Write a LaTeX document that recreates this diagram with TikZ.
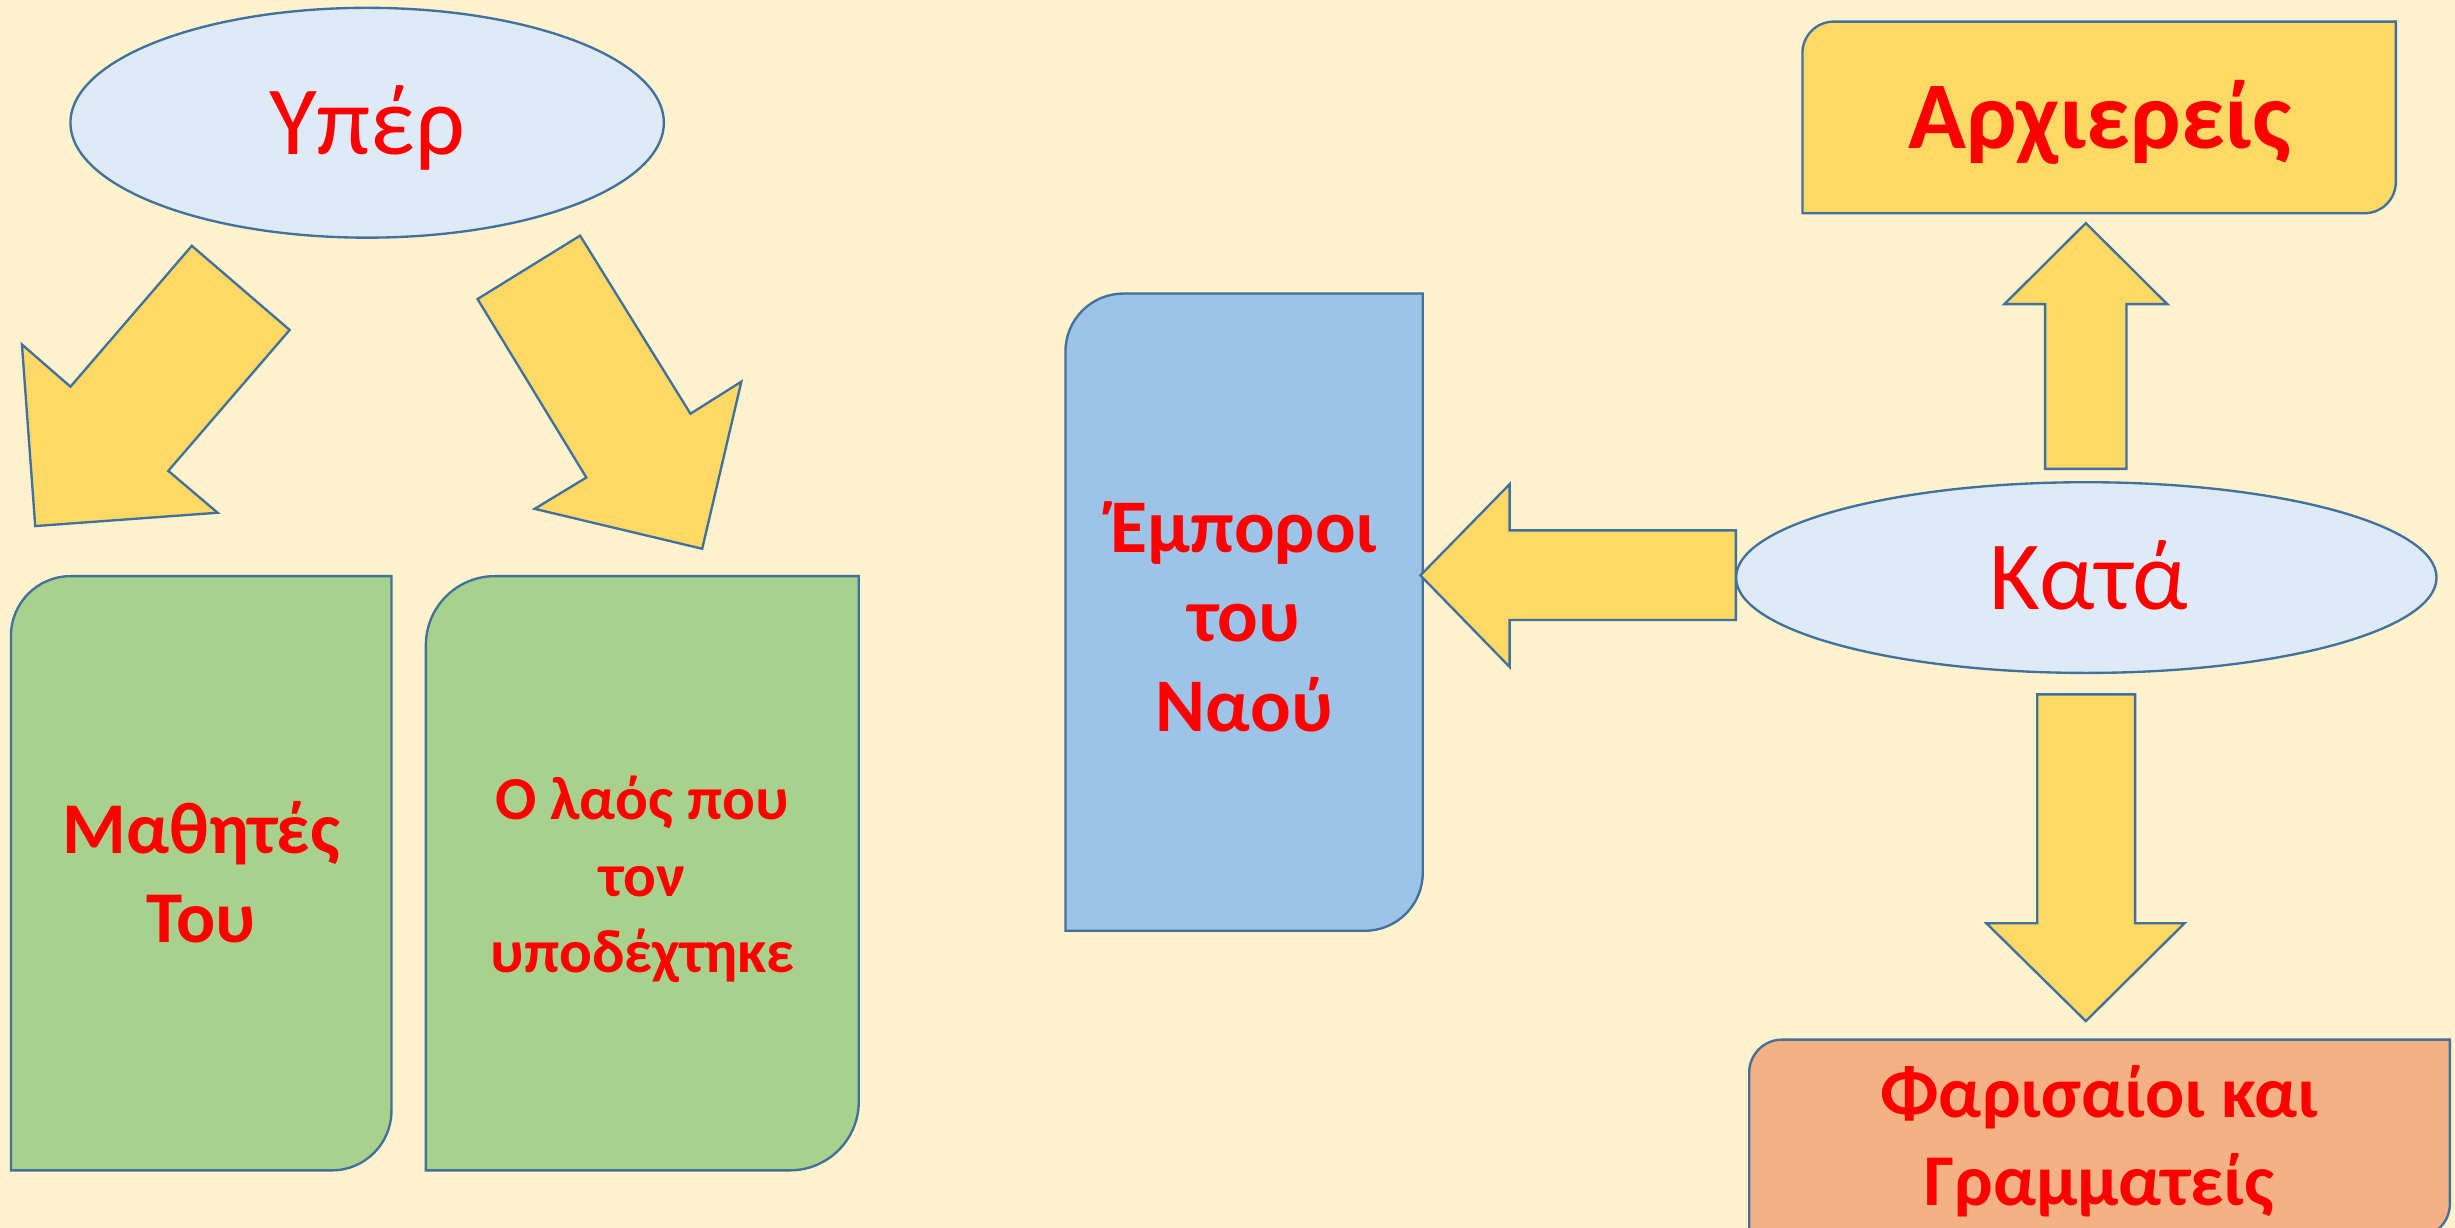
\documentclass[tikz,border=0pt]{standalone}
\usepackage{fontspec}
\setmainfont{Carlito}
\definecolor{bgc}{HTML}{FFF2CC}
\definecolor{ellc}{HTML}{DEEBF7}
\definecolor{greenc}{HTML}{A9D18E}
\definecolor{bluec}{HTML}{9DC3E6}
\definecolor{yelc}{HTML}{FFD966}
\definecolor{orc}{HTML}{F4B183}
\definecolor{edgec}{HTML}{41719C}
\definecolor{redc}{HTML}{FF0000}
\newcommand\dgbox[6]{%
  \draw[#1] ({#2},{#3+#6}) .. controls ({#2},{#3+0.448*#6}) and ({#2+0.448*#6},{#3}) .. ({#2+#6},{#3})
    -- ({#4},{#3}) -- ({#4},{#5-#6}) .. controls ({#4},{#5-0.448*#6}) and ({#4-0.448*#6},{#5}) .. ({#4-#6},{#5})
    -- ({#2},{#5}) -- cycle;}
\tikzset{
  shp/.style={draw=edgec, line width=0.75pt, line join=miter},
  blockarrow/.style={shp, fill=yelc},
  reglabel/.style={anchor=base, text=redc, inner sep=0pt, font=\fontsize{31.25pt}{37pt}\selectfont},
  biglabel/.style={anchor=base, text=redc, inner sep=0pt, font=\fontsize{30.5pt}{36pt}\selectfont\bfseries},
  midlabel/.style={anchor=base, text=redc, inner sep=0pt, font=\fontsize{23.3pt}{28pt}\selectfont\bfseries},
  bluelabel/.style={anchor=base, text=redc, inner sep=0pt, font=\fontsize{24.2pt}{29pt}\selectfont\bfseries},
  smalllabel/.style={anchor=base, text=redc, inner sep=0pt, font=\fontsize{19.5pt}{24pt}\selectfont\bfseries}
}
\begin{document}
\begin{tikzpicture}[x=0.5pt,y=-0.5pt]
\useasboundingbox (0,0) rectangle (1568,784.3);
\fill[bgc] (0,0) rectangle (1568,784.3);
\clip (0,0) rectangle (1568,784.3);

% ellipses
\draw[shp, fill=ellc] (234.5,78.4) ellipse [x radius=189.5, y radius=73.4];
\draw[shp, fill=ellc] (1332.5,368.9) ellipse [x radius=223.7, y radius=60.9];

% boxes
\dgbox{shp, fill=greenc}{7}{368}{250}{747.5}{38}
\dgbox{shp, fill=greenc}{272}{368}{548.5}{747.5}{44}
\dgbox{shp, fill=bluec}{680.5}{187.5}{908.7}{594.5}{37}
\dgbox{shp, fill=yelc}{1151.2}{13.8}{1530.2}{136.2}{20}
\dgbox{shp, fill=orc}{1117.2}{664}{1564.7}{790}{21}

% block arrows
\draw[blockarrow] (185,210.75) -- (122.5,157) -- (45,247) -- (14,220) -- (22.5,336) -- (139,327.5) -- (107.5,300.75) -- cycle;
\draw[blockarrow] (370.5,150.5) -- (305,191) -- (374.5,305) -- (341.5,325) -- (448.5,350.5) -- (473.5,243.75) -- (441,264.25) -- cycle;
\draw[blockarrow] (1306.2,299.5) -- (1306.2,194.25) -- (1280.2,194.25) -- (1332.2,142.5) -- (1384.2,194.25) -- (1358.2,194.25) -- (1358.2,299.5) -- cycle;
\draw[blockarrow] (1108.7,338.75) -- (964.2,338.75) -- (964.2,309.25) -- (907.2,367.5) -- (964.2,426) -- (964.2,396) -- (1108.7,396) -- cycle;
\draw[blockarrow] (1301.2,443.5) -- (1363.7,443.5) -- (1363.7,589.7) -- (1395.2,589.7) -- (1332.2,652.2) -- (1268.7,589.7) -- (1301.2,589.7) -- cycle;

% labels
\node[reglabel] (uper) at (234.5,99) {Υπέρ};
\node[reglabel] (kata) at (1334,389.6) {Κατά};
\node[biglabel] (arch) at (1341,94.7) {Αρχιερείς};
\node[midlabel] (mathA) at (128.5,545) {Μαθητές};
\node[midlabel] (mathB) at (128.5,602) {Του};
\node[smalllabel] (laosA) at (410.25,523.7) {Ο λαός που};
\node[smalllabel] (laosB) at (410.25,572.5) {τον};
\node[smalllabel] (laosC) at (410.25,621) {υποδέχτηκε};
\node[bluelabel] (empA) at (794.6,353) {Έμποροι};
\node[bluelabel] (empB) at (794.6,410) {του};
\node[bluelabel] (empC) at (794.6,467) {Ναού};
\node[midlabel] (farA) at (1341,713.5) {Φαρισαίοι και};
\node[midlabel] (farB) at (1341,769.7) {Γραμματείς};
\end{tikzpicture}
\end{document}
